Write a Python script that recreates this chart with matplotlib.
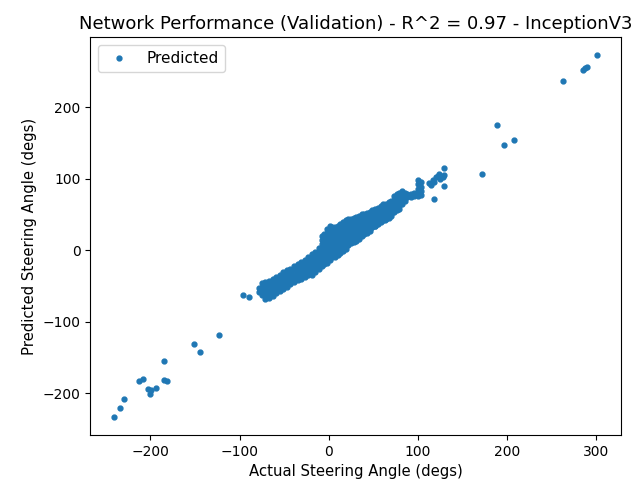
import numpy as np
import matplotlib
matplotlib.use("Agg")
import matplotlib.pyplot as plt

# outliers (actual, predicted)
low_x = [-240.3, -234.3, -229.5, -212.7, -207.9, -202.3, -199.7, -200.8, -193.4,
         -184.8, -184.8, -181.8, -151.3, -143.9, -123.4, -96.3, -90.0]
low_y = [-233.2, -221.1, -207.7, -183.4, -180.6, -193.7, -195.5, -201.1, -192.3,
         -155.0, -181.6, -183.4, -130.9, -142.9, -118.7, -62.8, -66.1]

high_x = [112.8, 114.6, 117.0, 118.4, 120.2, 122.0, 124.0, 127.7, 129.5, 129.5,
          129.5, 117.6, 125.0, 171.6, 189.1, 196.5, 207.3, 262.7, 285.0, 287.6,
          289.5, 301.0, 51.4, 62.6]
high_y = [93.2, 90.8, 98.0, 95.4, 102.4, 104.0, 107.0, 102.4, 115.5, 105.0,
          89.4, 72.2, 100.0, 106.6, 174.2, 147.1, 153.6, 236.0, 252.4, 254.6,
          256.0, 272.3, 33.5, 42.8]

# the dense band: actual angle and the predicted values seen above it
band = [
    (-78, [-53, -58]),
    (-75, [-46, -52, -58, -62]),
    (-71, [-44, -50, -56, -62, -68]),
    (-67, [-43, -49, -55, -61, -67]),
    (-63, [-40, -46, -52, -58, -64]),
    (-59, [-37, -43, -49, -55, -60]),
    (-55, [-34, -40, -46, -52, -57]),
    (-51, [-31, -37, -43, -49, -54]),
    (-47, [-28, -34, -40, -46, -51]),
    (-43, [-26, -32, -38, -44, -47]),
    (-39, [-22, -28, -34, -40, -45]),
    (-35, [-19, -25, -31, -37, -42]),
    (-31, [-16, -22, -28, -34, -40]),
    (-27, [-14, -20, -26, -32, -37]),
    (-23, [-10, -16, -22, -28, -34]),
    (-19, [-6, -12, -18, -24, -30, -35]),
    (-15, [-2, -8, -14, -20, -26, -31]),
    (-11, [3, -3, -9, -15, -21, -26]),
    (-8, [20, 14, 8, 2, -4, -10, -16, -22]),
    (-5, [22, 16, 10, 4, -2, -8, -14, -20]),
    (-2, [30, 24, 18, 12, 6, 0, -6, -12, -18]),
    (1, [34, 28, 22, 16, 10, 4, -2, -8, -14]),
    (4, [32, 26, 20, 14, 8, 2, -4, -10]),
    (7, [33, 27, 21, 15, 9, 3, -3, -9]),
    (10, [34, 28, 22, 16, 10, 4, -2, -7]),
    (13, [36, 30, 24, 18, 12, 6, 0, -4]),
    (16, [40, 34, 28, 22, 16, 10, 4, -1]),
    (19, [42, 36, 30, 24, 18, 12, 6, 2]),
    (22, [43, 37, 31, 25, 19, 13, 7]),
    (25, [44, 38, 32, 26, 20, 14, 10]),
    (28, [45, 39, 33, 27, 21, 15, 12]),
    (31, [47, 41, 35, 29, 23, 17, 13]),
    (34, [48, 42, 36, 30, 24, 18, 15]),
    (37, [50, 44, 38, 32, 26, 20]),
    (40, [51, 45, 39, 33, 27, 22]),
    (43, [52, 46, 40, 34, 28, 24]),
    (46, [54, 48, 42, 36, 30, 27]),
    (49, [56, 50, 44, 38, 33]),
    (52, [57, 51, 45, 39, 34]),
    (55, [59, 53, 47, 41, 37]),
    (58, [62, 56, 50, 44, 39]),
    (61, [64, 58, 52, 46, 42]),
    (64, [65, 59, 53, 47, 43]),
    (67, [67, 61, 55, 49, 45]),
    (70, [69, 63, 57, 51, 48]),
    (73, [76, 70, 64, 58, 53]),
    (76, [79, 73, 67, 61, 56]),
    (79, [80, 74, 68, 62, 58]),
    (82, [82, 76, 70, 64]),
    (85, [80, 75, 69]),
    (88, [79, 74]),
    (92, [78, 74]),
    (96, [80, 76]),
    (100, [98, 92, 86, 80, 75]),
    (103, [95, 88, 82, 77]),
]

actual = list(low_x)
predicted = list(low_y)
for a, preds in band:
    for p in preds:
        actual.append(a)
        predicted.append(p)
actual += high_x
predicted += high_y

fig, ax = plt.subplots(figsize=(6.36, 4.83), dpi=100)
fig.subplots_adjust(left=0.142, right=0.977, bottom=0.099, top=0.923)
ax.plot(actual, predicted, '.', markersize=7, label='Predicted')
ax.set_title('Network Performance (Validation) - R^2 = 0.97 - InceptionV3',
             fontsize=13)
ax.set_xlabel('Actual Steering Angle (degs)', fontsize=10.7)
ax.set_ylabel('Predicted Steering Angle (degs)', fontsize=10.7)
ax.legend(loc='upper left', fontsize=11)
fig.savefig('out.png', dpi=100)
